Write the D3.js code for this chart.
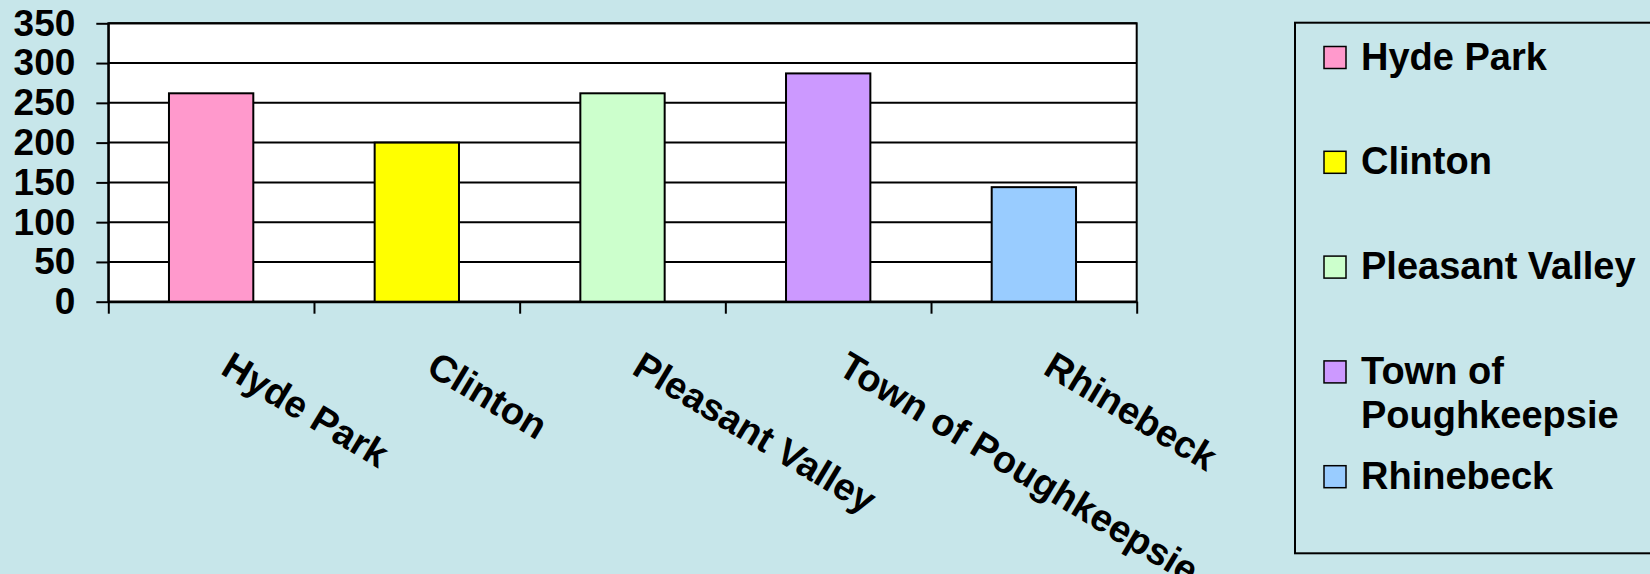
<!DOCTYPE html>
<html>
<head>
<meta charset="utf-8">
<script src="https://cdn.jsdelivr.net/npm/d3@7"></script>
<style>
  html, body { margin: 0; padding: 0; background: #c7e6ea; overflow: hidden; }
  svg { display: block; font-family: "Liberation Sans", Arial, sans-serif; font-weight: bold; }
</style>
</head>
<body>
<div id="chart"></div>
<script>
// towns and their values
const categories = ["Hyde Park", "Clinton", "Pleasant Valley", "Town of Poughkeepsie", "Rhinebeck"];
const values = [262, 200, 262, 287, 144];
const colors = ["#ff99cc", "#ffff00", "#ccffcc", "#cc99ff", "#99ccff"];
const yTicks = [0, 50, 100, 150, 200, 250, 300, 350];

const width = 1650;
const height = 574;
const plot = { left: 108.3, right: 1136.7, top: 23.3, bottom: 301.7 };

const data = categories.map((c, i) => ({ name: c, value: values[i], color: colors[i] }));

const svg = d3.select("#chart")
              .append("svg")
              .attr("width", width)
              .attr("height", height);

const xScale = d3.scaleBand()
                 .domain(categories)
                 .range([plot.left, plot.right])
                 .padding(0);

// edges of the categories, for the tick marks
const xEdge = d3.scaleLinear()
                .domain([0, categories.length])
                .range([plot.left, plot.right]);

const yScale = d3.scaleLinear()
                 .domain([0, 350])
                 .range([plot.bottom, plot.top]);

// plot area
svg.append("rect")
   .attr("x", plot.left)
   .attr("y", plot.top)
   .attr("width", plot.right - plot.left)
   .attr("height", plot.bottom - plot.top)
   .attr("fill", "#fff")
   .attr("stroke", "#000")
   .attr("stroke-width", 2);

// gridlines
svg.append("g")
   .selectAll("line")
   .data(yTicks)
   .enter()
   .append("line")
   .attr("x1", plot.left)
   .attr("x2", plot.right)
   .attr("y1", d => yScale(d))
   .attr("y2", d => yScale(d))
   .attr("stroke", "#000")
   .attr("stroke-width", 2);

const barW = xScale.bandwidth() * 0.41;

svg.append("g")
   .selectAll("rect")
   .data(data)
   .enter()
   .append("rect")
   .attr("x", d => xScale(d.name) + (xScale.bandwidth() - barW) / 2)
   .attr("y", d => yScale(d.value))
   .attr("width", barW)
   .attr("height", d => yScale(0) - yScale(d.value))
   .attr("fill", d => d.color)
   .attr("stroke", "#000")
   .attr("stroke-width", 2);

const yAxis = d3.axisLeft(yScale)
                .tickValues(yTicks)
                .tickSize(12)
                .tickSizeOuter(0)
                .tickPadding(21);

svg.append("g")
   .attr("transform", "translate(" + plot.left + ",0)")
   .call(yAxis)
   .call(g => g.selectAll("line, path").attr("stroke", "#000").attr("stroke-width", 2))
   .call(g => g.selectAll("text")
               .attr("fill", "#000")
               .style("font-size", "37px")
               .style("font-family", "'Liberation Sans', Arial, sans-serif")
               .style("font-weight", "bold"));

const xAxis = d3.axisBottom(xEdge)
                .tickValues(d3.range(categories.length + 1))
                .tickSize(12)
                .tickSizeOuter(0)
                .tickFormat("");

svg.append("g")
   .attr("transform", "translate(0," + plot.bottom + ")")
   .call(xAxis)
   .call(g => g.selectAll("line, path").attr("stroke", "#000").attr("stroke-width", 2));

// rotated category labels
svg.append("g")
   .selectAll("text")
   .data(categories)
   .enter()
   .append("text")
   .attr("transform", d => "translate(" + (xScale(d) + xScale.bandwidth() / 2 + 8) + ",373) rotate(31)")
   .attr("text-anchor", "start")
   .style("font-size", "38px")
   .attr("fill", "#000")
   .text(d => d);

// legend
const legend = svg.append("g");

legend.append("rect")
      .attr("x", 1295)
      .attr("y", 22.7)
      .attr("width", 400)
      .attr("height", 553.3 - 22.7)
      .attr("fill", "none")
      .attr("stroke", "#000")
      .attr("stroke-width", 2);

const item = legend.selectAll(".item")
                   .data(data)
                   .enter()
                   .append("g")
                   .attr("class", "item")
                   .attr("transform", (d, i) => "translate(1324," + (57.5 + i * 104.8) + ")");

item.append("rect")
    .attr("x", 0)
    .attr("y", -11)
    .attr("width", 22)
    .attr("height", 22)
    .attr("fill", d => d.color)
    .attr("stroke", "#000")
    .attr("stroke-width", 1.5);

item.append("text")
    .attr("x", 37)
    .attr("y", 12)
    .style("font-size", "38px")
    .attr("fill", "#000")
    .each(function(d) {
      // wrap long names like the original legend
      const t = d3.select(this);
      const words = d.name.split(" ");
      let line = [];
      let tspan = t.append("tspan").attr("x", 37).attr("dy", 0);
      words.forEach(w => {
        line.push(w);
        tspan.text(line.join(" "));
        if (tspan.node().getComputedTextLength() > 290 && line.length > 1) {
          line.pop();
          tspan.text(line.join(" "));
          line = [w];
          tspan = t.append("tspan").attr("x", 37).attr("dy", 44).text(w);
        }
      });
    });
</script>
</body>
</html>
